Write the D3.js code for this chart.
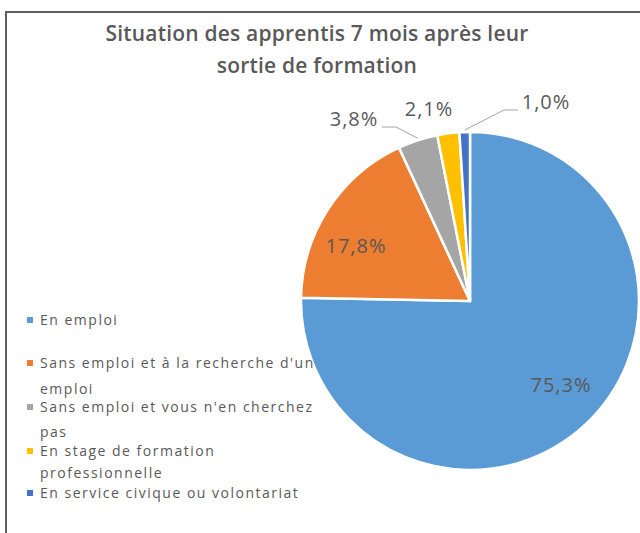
<!DOCTYPE html>
<html>
<head>
<meta charset="utf-8">
<script src="https://cdn.jsdelivr.net/npm/d3@7"></script>
<style>
  body { margin: 0; background: #fff; }
  text { font-family: "Open Sans", "Liberation Sans", sans-serif; fill: #595959; }
</style>
</head>
<body>
<svg class="chart"></svg>
<script>
const categories = ["En emploi", "Sans emploi et à la recherche d'un emploi", "Sans emploi et vous n'en cherchez pas", "En stage de formation professionnelle", "En service civique ou volontariat"];
const values = [75.3, 17.8, 3.8, 2.1, 1.0];
const legendLines = [["En emploi"], ["Sans emploi et à la recherche d'un", "emploi"], ["Sans emploi et vous n'en cherchez", "pas"], ["En stage de formation", "professionnelle"], ["En service civique ou volontariat"]];
const titleLines = ["Situation des apprentis 7 mois après leur", "sortie de formation"];

const colors = ["#5B9BD5", "#ED7D31", "#A5A5A5", "#FFC000", "#4472C4"];
const width = 640, height = 533;
const cx = 470, cy = 301, radius = 169;

// label anchors (center x, baseline y) and which ones get a leader line
const labelSpots = [[561, 392], [356, 253], [354, 126], [429, 116], [546, 109]];
const leaders = [null, null, "right", null, "left"];

const svg = d3.select(".chart").attr("width", width).attr("height", height);

// frame
svg.append("rect").attr("x", 6).attr("y", 12).attr("width", 700).attr("height", 600)
  .attr("fill", "none").attr("stroke", "#5f5f5f").attr("stroke-width", 2);

// title
svg.append("g").selectAll("text").data(titleLines).join("text")
  .attr("x", 317).attr("y", (d, i) => 41 + i * 32)
  .attr("text-anchor", "middle").attr("font-size", 21).attr("font-weight", 600)
  .attr("letter-spacing", 0.2)
  .text(d => d);

// pie
const pie = d3.pie().sort(null).value(d => d);
const arcs = pie(values);
const arc = d3.arc().innerRadius(0).outerRadius(radius);
const edgeArc = d3.arc().innerRadius(radius).outerRadius(radius);
const fmt = v => d3.format(".1f")(v).replace(".", ",") + "%";

const g = svg.append("g").attr("transform", `translate(${cx},${cy})`);
g.selectAll("path").data(arcs).join("path")
  .attr("d", arc).attr("fill", (d, i) => colors[i])
  .attr("stroke", "#fff").attr("stroke-width", 2.5).attr("stroke-linejoin", "round");

// leader lines
arcs.forEach((d, i) => {
  if (!leaders[i]) return;
  const [ex, ey] = edgeArc.centroid(d);
  const [lx, ly] = labelSpots[i];
  const side = leaders[i] === "right" ? 1 : -1;
  const sx = lx - cx + side * 28, sy = ly - cy + 1;
  const kx = sx + side * 14;
  g.append("polyline")
    .attr("points", [[sx, sy], [kx, sy], [ex, ey - 2]].map(p => p.join(",")).join(" "))
    .attr("fill", "none").attr("stroke", "#A6A6A6").attr("stroke-width", 1);
});

// data labels
svg.append("g").selectAll("text").data(arcs).join("text")
  .attr("x", (d, i) => labelSpots[i][0]).attr("y", (d, i) => labelSpots[i][1])
  .attr("text-anchor", "middle").attr("font-size", 20).attr("letter-spacing", 1)
  .text(d => fmt(d.data));

// legend
const legendY = [[320], [363, 389], [407, 432], [451, 473], [493]];
const legend = svg.append("g");
legendLines.forEach((lines, i) => {
  legend.append("rect").attr("x", 27).attr("y", legendY[i][0] - 3)
    .attr("width", 6).attr("height", 6).attr("fill", colors[i]);
  lines.forEach((t, j) => {
    legend.append("text").attr("x", 40).attr("y", legendY[i][j] + 5)
      .attr("font-size", 14).attr("letter-spacing", 1.5).text(t);
  });
});
</script>
</body>
</html>
